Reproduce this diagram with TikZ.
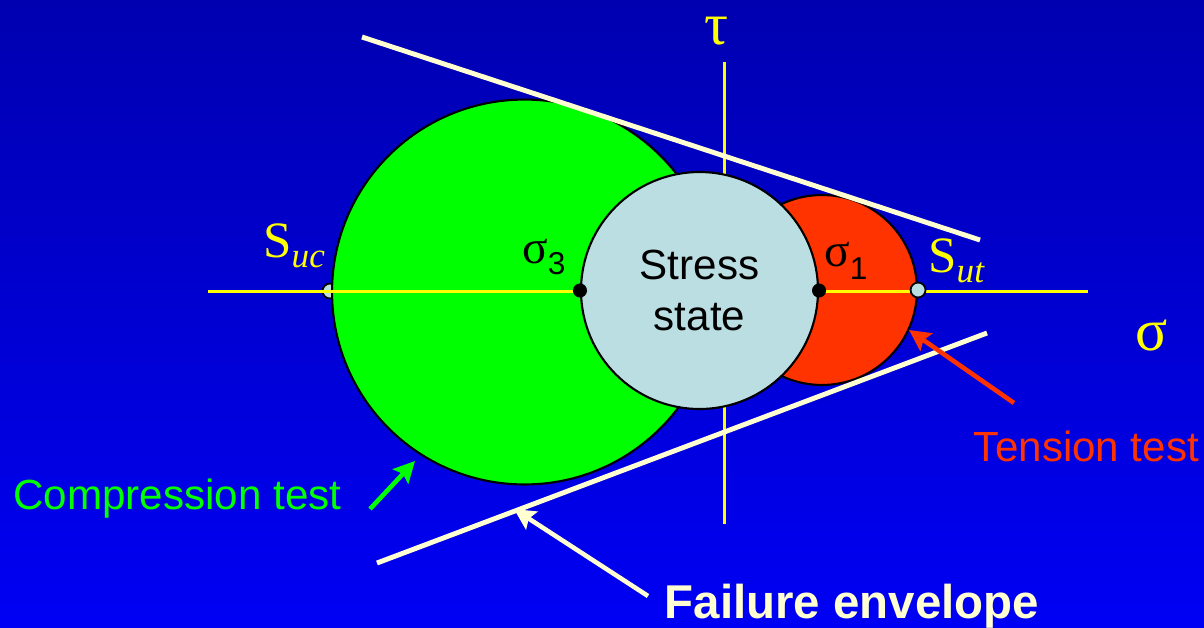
\documentclass[tikz,border=0pt]{standalone}
\usepackage{fontspec}
\newfontfamily\arialf{Liberation Sans}
\newfontfamily\timesf{Liberation Serif}
\usetikzlibrary{arrows.meta,positioning}

\definecolor{bgtop}{RGB}{0,0,176}
\definecolor{bgbot}{RGB}{0,0,244}
\definecolor{compgreen}{RGB}{0,255,0}
\definecolor{tensred}{RGB}{255,51,0}
\definecolor{stressblue}{RGB}{186,222,226}
\definecolor{envcream}{RGB}{255,255,210}
\definecolor{axisyellow}{RGB}{255,255,0}

\begin{document}
\begin{tikzpicture}[x=0.02cm, y=-0.02cm,
    mohr/.style={draw=black, circle, line width=1.2pt, inner sep=0pt},
    axisline/.style={draw=axisyellow, line width=1.7pt},
    envline/.style={draw=envcream, line width=2.8pt},
    pointer/.style={-{Stealth[length=12pt, width=12pt, inset=2pt]}, line width=2.6pt},
    dot/.style={circle, fill=black, inner sep=0pt, minimum size=8pt},
    endpt/.style={circle, draw=black, fill=stressblue, line width=1pt, inner sep=0pt, minimum size=8.5pt},
    label/.style={font=\arialf\fontsize{24}{28}\selectfont},
    axislabel/.style={text=axisyellow, inner sep=0pt, font=\timesf\fontsize{34}{34}\selectfont},
]

% Background
\shade[top color=bgtop, bottom color=bgbot] (0,0) rectangle (1204,627);
\useasboundingbox (0,0) rectangle (1204,627);

% Compression strength point (behind the circle)
\node[endpt] (suc) at (330,291) {};

% Mohr circles
\node[mohr, fill=compgreen, minimum size=7.7cm] (comp) at (524.5,292) {};
\node[mohr, fill=tensred, minimum size=3.8cm] (tens) at (822,290) {};

% Axes
\coordinate (hleft) at (208,291);
\coordinate (hright) at (1088,291);
\coordinate (vtop) at (724,62);
\coordinate (vbot) at (724,524);
\draw[axisline] (hleft) -- (hright);
\draw[axisline] (vtop) -- (vbot);

% Stress state
\node[mohr, fill=stressblue, minimum size=4.74cm, align=center, label,
      font=\arialf\fontsize{24}{28.5}\selectfont] (stress) at (699.5,290.5) {Stress\\state};

\node[dot] (sigthree) at (stress.west) {};
\node[dot] (sigone) at (stress.east) {};
\node[endpt] (sut) at (tens.east) {};

% Failure envelope
\coordinate (envtopa) at (362,37);
\coordinate (envtopb) at (980,240);
\coordinate (envbota) at (377,563);
\coordinate (envbotb) at (987,333);
\draw[envline] (envtopa) -- (envtopb);
\draw[envline] (envbota) -- (envbotb);

% Axis labels
\node[axislabel] (taulbl) at (716,31) {τ};
\node[axislabel] (sigmalbl) at (1152,335) {σ};

\node[anchor=base west, text=axisyellow, inner sep=0pt] (suclbl) at (263,257)
  {\timesf\fontsize{29}{29}\selectfont S\raisebox{-6.2pt}{\fontsize{20}{20}\selectfont\itshape uc}};
\node[anchor=base west, text=axisyellow, inner sep=0pt] (sutlbl) at (928,272)
  {\timesf\fontsize{29}{29}\selectfont S\raisebox{-6.2pt}{\fontsize{20}{20}\selectfont\itshape ut}};

\node[anchor=base west, inner sep=0pt] (sigthreelbl) at (522,263)
  {\timesf\fontsize{27}{27}\selectfont σ\raisebox{-6.8pt}{\arialf\fontsize{18}{18}\selectfont 3}};
\node[anchor=base west, inner sep=0pt] (sigonelbl) at (824,266)
  {\timesf\fontsize{27}{27}\selectfont σ\raisebox{-7.5pt}{\arialf\fontsize{18}{18}\selectfont 1}};

% Test labels
\node[label, text=compgreen, anchor=base] (complbl) at (177.5,509) {Compression test};
\node[label, text=tensred, anchor=base] (tenslbl) at (1086.5,461) {Tension test};
\node[anchor=base, text=envcream, font=\arialf\bfseries\fontsize{27}{30}\selectfont] (envlbl) at (852,618) {Failure envelope};

% Pointers
\coordinate (comptail) at (370,509);
\coordinate (comptip) at (415,461);
\coordinate (tenstail) at (1014,403);
\coordinate (tenstip) at (909,330);
\coordinate (envtail) at (648,596);
\coordinate (envtip) at (514,509);
\draw[pointer, draw=compgreen, fill=compgreen] (comptail) -- (comptip);
\draw[pointer, draw=tensred, fill=tensred] (tenstail) -- (tenstip);
\draw[pointer, draw=envcream, fill=envcream] (envtail) -- (envtip);

\end{tikzpicture}
\end{document}
